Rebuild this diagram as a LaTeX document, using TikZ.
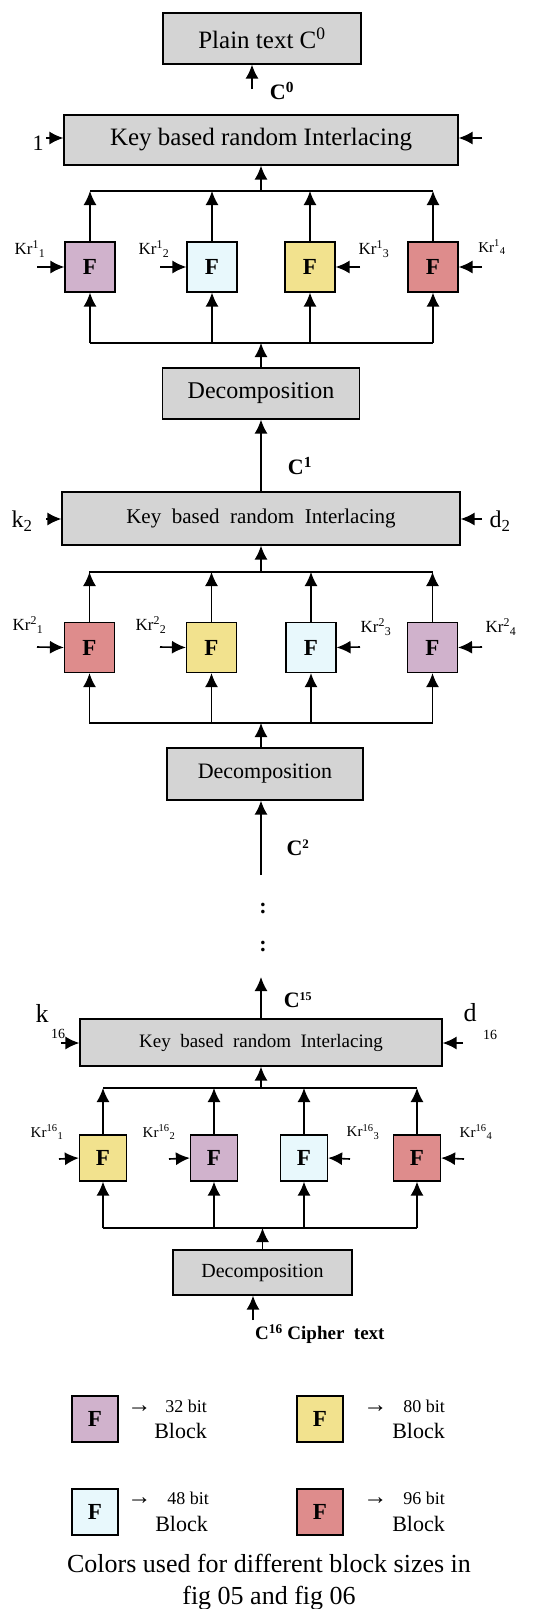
\documentclass[tikz,border=0pt]{standalone}
\usepackage{fontspec}
\setmainfont{Liberation Serif}
\usetikzlibrary{arrows.meta}
\definecolor{bx_gray}{RGB}{212, 212, 212}
\definecolor{f_purple}{RGB}{208, 178, 204}
\definecolor{f_blue}{RGB}{232, 248, 252}
\definecolor{f_yellow}{RGB}{242, 226, 142}
\definecolor{f_red}{RGB}{222, 140, 140}
\tikzstyle{gb}=[rectangle,fill=bx_gray,draw=black,line width=1.2pt,inner sep=0pt]
\tikzstyle{fb}=[rectangle,draw=black,line width=1.2pt,inner sep=0pt,
  minimum width=50pt,minimum height=50pt,font=\fontsize{23}{23}\selectfont\bfseries]
\tikzstyle{ar}=[line width=1.6pt,-{Latex[length=14pt,width=13pt]}]
\tikzstyle{bus}=[line width=1.6pt]
\tikzstyle{kl}=[inner sep=0pt,font=\fontsize{17}{17}\selectfont]
\tikzstyle{cl}=[inner sep=0pt,font=\fontsize{22}{22}\selectfont\bfseries]
\tikzstyle{none}=[inner sep=0pt]

\begin{document}
\begin{tikzpicture}[x=1pt, y=-1pt]
            \useasboundingbox (0, 0) rectangle (540, 1609);
            % round 1
            \node [style=gb, minimum width=198pt, minimum height=51pt, font=\fontsize{25}{25}\selectfont] (0) at (262, 38.5) {Plain text C\textsuperscript{0}};
            \node [style=gb, minimum width=394pt, minimum height=50pt, font=\fontsize{25}{25}\selectfont] (1) at (261, 140) {Key based random Interlacing};
            \node [style=none] (2) at (252, 89) {};
            \node [style=cl] (3) at (282, 91) {C\textsuperscript{0}};
            \node [style=none, font=\fontsize{22}{22}\selectfont] (4) at (38, 143) {1};
            \node [style=none] (5) at (46, 138) {};
            \node [style=none] (6) at (482, 138) {};
            \draw [style=ar] (2.center) to (2.center |- 0.south);
            \draw [style=ar] (5.center) to (5.center -| 1.west);
            \draw [style=ar] (6.center) to (6.center -| 1.east);
            \node [style=fb, fill=f_purple] (10) at (90, 267) {F};
            \node [style=fb, fill=f_blue] (11) at (212, 267) {F};
            \node [style=fb, fill=f_yellow] (12) at (310, 267) {F};
            \node [style=fb, fill=f_red] (13) at (433, 267) {F};
            \node [style=none] (14) at (90, 191) {};
            \node [style=none] (15) at (433, 191) {};
            \node [style=none] (16) at (90, 343) {};
            \node [style=none] (17) at (433, 343) {};
            \node [style=gb, minimum width=197pt, minimum height=51pt, font=\fontsize{24}{24}\selectfont] (18) at (261, 393.5) {Decomposition};
            \draw [style=bus] (14.center) to (15.center);
            \draw [style=bus] (16.center) to (17.center);
            \draw [style=ar] (1.south |- 14.center) to (1.south);
            \draw [style=ar] (10.north) to (10.north |- 14.center);
            \draw [style=ar] (11.north) to (11.north |- 14.center);
            \draw [style=ar] (12.north) to (12.north |- 14.center);
            \draw [style=ar] (13.north) to (13.north |- 14.center);
            \draw [style=ar] (10.south |- 16.center) to (10.south);
            \draw [style=ar] (11.south |- 16.center) to (11.south);
            \draw [style=ar] (12.south |- 16.center) to (12.south);
            \draw [style=ar] (13.south |- 16.center) to (13.south);
            \draw [style=ar] (18.north) to (18.north |- 16.center);
            \node [style=none] (19) at (37, 267) {};
            \node [style=none] (20) at (160, 267) {};
            \node [style=none] (21) at (360, 267) {};
            \node [style=none] (22) at (482, 267) {};
            \draw [style=ar] (19.center) to (10.west);
            \draw [style=ar] (20.center) to (11.west);
            \draw [style=ar] (21.center) to (12.east);
            \draw [style=ar] (22.center) to (13.east);
            \node [style=kl] (23) at (30, 249) {Kr\textsuperscript{1}\textsubscript{1}};
            \node [style=kl] (24) at (154, 249) {Kr\textsuperscript{1}\textsubscript{2}};
            \node [style=kl] (25) at (374, 249) {Kr\textsuperscript{1}\textsubscript{3}};
            \node [style=kl, font=\fontsize{15}{15}\selectfont] (26) at (492, 247) {Kr\textsuperscript{1}\textsubscript{4}};
            % round 2
            \node [style=gb, minimum width=398pt, minimum height=53pt, font=\fontsize{21}{21}\selectfont] (30) at (261, 518.5) {Key~~based~~random~~Interlacing};
            \node [style=cl] (31) at (300, 466) {C\textsuperscript{1}};
            \draw [style=ar] (30.north) to (18.south);
            \node [style=none, font=\fontsize{24}{24}\selectfont] (32) at (22, 521) {k\textsubscript{2}};
            \node [style=none] (33) at (46, 519) {};
            \node [style=none, font=\fontsize{24}{24}\selectfont] (34) at (500, 521) {d\textsubscript{2}};
            \node [style=none] (35) at (482, 519) {};
            \draw [style=ar] (33.center) to (33.center -| 30.west);
            \draw [style=ar] (35.center) to (35.center -| 30.east);
            \node [style=none] (36) at (89, 572) {};
            \node [style=none] (37) at (433, 572) {};
            \node [style=fb, fill=f_red] (38) at (89.5, 647.5) {F};
            \node [style=fb, fill=f_yellow] (39) at (211.5, 647.5) {F};
            \node [style=fb, fill=f_blue] (40) at (311, 647.5) {F};
            \node [style=fb, fill=f_purple] (41) at (432.5, 647.5) {F};
            \node [style=none] (42) at (89, 723) {};
            \node [style=none] (43) at (433, 723) {};
            \node [style=gb, minimum width=196pt, minimum height=52pt, font=\fontsize{22}{22}\selectfont] (44) at (265, 774) {Decomposition};
            \node [style=none] (45) at (261, 875) {};
            \node [style=cl] (46) at (298, 848) {C\textsuperscript{\fontsize{13}{13}\selectfont 2}};
            \draw [style=bus] (36.center) to (37.center);
            \draw [style=bus] (42.center) to (43.center);
            \draw [style=ar] (30.south |- 36.center) to (30.south);
            \draw [style=ar] (38.north) to (38.north |- 36.center);
            \draw [style=ar] (39.north) to (39.north |- 36.center);
            \draw [style=ar] (40.north) to (40.north |- 36.center);
            \draw [style=ar] (41.north) to (41.north |- 36.center);
            \draw [style=ar] (38.south |- 42.center) to (38.south);
            \draw [style=ar] (39.south |- 42.center) to (39.south);
            \draw [style=ar] (40.south |- 42.center) to (40.south);
            \draw [style=ar] (41.south |- 42.center) to (41.south);
            \draw [style=ar] (45.center |- 44.north) to (45.center |- 42.center);
            \draw [style=ar] (45.center) to (45.center |- 44.south);
            \node [style=none] (47) at (37, 647) {};
            \node [style=none] (48) at (160, 647) {};
            \node [style=none] (49) at (360, 647) {};
            \node [style=none] (50) at (482, 647) {};
            \draw [style=ar] (47.center) to (38.west);
            \draw [style=ar] (48.center) to (39.west);
            \draw [style=ar] (49.center) to (40.east);
            \draw [style=ar] (50.center) to (41.east);
            \node [style=kl] (51) at (28, 625) {Kr\textsuperscript{2}\textsubscript{1}};
            \node [style=kl] (52) at (151, 625) {Kr\textsuperscript{2}\textsubscript{2}};
            \node [style=kl] (53) at (376, 627) {Kr\textsuperscript{2}\textsubscript{3}};
            \node [style=kl] (54) at (501, 627) {Kr\textsuperscript{2}\textsubscript{4}};
            \node [style=cl] (55) at (263, 908) {:};
            \node [style=cl] (56) at (263, 946) {:};
            % round 16
            \node [style=gb, minimum width=362pt, minimum height=47pt, font=\fontsize{19}{19}\selectfont] (60) at (261, 1042.5) {Key~~based~~random~~Interlacing};
            \node [style=none] (61) at (261, 977) {};
            \node [style=cl] (62) at (298, 1000) {C\textsuperscript{\fontsize{12}{12}\selectfont 15}};
            \draw [style=ar] (60.north) to (61.center);
            \node [style=none, font=\fontsize{26}{26}\selectfont] (63) at (42, 1013) {k};
            \node [style=none, font=\fontsize{14}{14}\selectfont] (64) at (58, 1034) {16};
            \node [style=none] (65) at (61, 1043) {};
            \node [style=none, font=\fontsize{26}{26}\selectfont] (66) at (470, 1013) {d};
            \node [style=none, font=\fontsize{14}{14}\selectfont] (67) at (490, 1035) {16};
            \node [style=none] (68) at (463, 1043) {};
            \draw [style=ar] (65.center) to (65.center -| 60.west);
            \draw [style=ar] (68.center) to (68.center -| 60.east);
            \node [style=none] (69) at (103, 1088) {};
            \node [style=none] (70) at (417, 1088) {};
            \node [style=fb, fill=f_yellow, minimum width=47pt, minimum height=46pt] (71) at (103, 1158) {F};
            \node [style=fb, fill=f_purple, minimum width=47pt, minimum height=46pt] (72) at (214, 1158) {F};
            \node [style=fb, fill=f_blue, minimum width=47pt, minimum height=46pt] (73) at (304, 1158) {F};
            \node [style=fb, fill=f_red, minimum width=47pt, minimum height=46pt] (74) at (417, 1158) {F};
            \node [style=none] (75) at (59, 1159) {};
            \node [style=none] (76) at (169, 1159) {};
            \node [style=none] (77) at (350, 1159) {};
            \node [style=none] (78) at (464, 1159) {};
            \draw [style=ar] (75.center) to (71.west);
            \draw [style=ar] (76.center) to (72.west);
            \draw [style=ar] (77.center) to (73.east);
            \draw [style=ar] (78.center) to (74.east);
            \node [style=kl, font=\fontsize{15}{15}\selectfont] (79) at (47, 1132) {Kr\textsuperscript{16}\textsubscript{1}};
            \node [style=kl, font=\fontsize{15}{15}\selectfont] (80) at (159, 1132) {Kr\textsuperscript{16}\textsubscript{2}};
            \node [style=kl, font=\fontsize{15}{15}\selectfont] (81) at (363, 1132) {Kr\textsuperscript{16}\textsubscript{3}};
            \node [style=kl, font=\fontsize{15}{15}\selectfont] (82) at (476, 1132) {Kr\textsuperscript{16}\textsubscript{4}};
            \node [style=none] (83) at (103, 1228) {};
            \node [style=none] (84) at (417, 1228) {};
            \node [style=gb, minimum width=179pt, minimum height=45pt, font=\fontsize{20}{20}\selectfont] (85) at (262.5, 1272.5) {Decomposition};
            \node [style=none] (86) at (253, 1320) {};
            \node [style=cl, anchor=west, font=\fontsize{19}{19}\selectfont\bfseries] (87) at (255, 1334) {C\textsuperscript{16} Cipher~~text};
            \draw [style=bus] (69.center) to (70.center);
            \draw [style=bus] (83.center) to (84.center);
            \draw [style=ar] (60.south |- 69.center) to (60.south);
            \draw [style=ar] (71.north) to (71.north |- 69.center);
            \draw [style=ar] (72.north) to (72.north |- 69.center);
            \draw [style=ar] (73.north) to (73.north |- 69.center);
            \draw [style=ar] (74.north) to (74.north |- 69.center);
            \draw [style=ar] (71.south |- 83.center) to (71.south);
            \draw [style=ar] (72.south |- 83.center) to (72.south);
            \draw [style=ar] (73.south |- 83.center) to (73.south);
            \draw [style=ar] (74.south |- 83.center) to (74.south);
            \draw [style=ar] (85.north) to (85.north |- 83.center);
            \draw [style=ar] (86.center) to (86.center |- 85.south);
            % legend
            \node [style=fb, fill=f_purple, minimum width=46pt, minimum height=46pt] (90) at (95, 1419) {F};
            \node [style=none, anchor=east, font=\fontsize{18}{18}\selectfont] (91) at (207, 1406) {{\fontsize{24}{24}\selectfont →}\hspace{14pt}32 bit};
            \node [style=none, anchor=east, font=\fontsize{22}{22}\selectfont] (92) at (207, 1431) {Block};
            \node [style=fb, fill=f_yellow, minimum width=46pt, minimum height=46pt] (93) at (320, 1419) {F};
            \node [style=none, anchor=east, font=\fontsize{18}{18}\selectfont] (94) at (445, 1406) {{\fontsize{24}{24}\selectfont →}\hspace{16pt}80 bit};
            \node [style=none, anchor=east, font=\fontsize{22}{22}\selectfont] (95) at (445, 1431) {Block};
            \node [style=fb, fill=f_blue, minimum width=46pt, minimum height=46pt] (96) at (95, 1512) {F};
            \node [style=none, anchor=east, font=\fontsize{18}{18}\selectfont] (97) at (209, 1498) {{\fontsize{24}{24}\selectfont →}\hspace{16pt}48 bit};
            \node [style=none, anchor=east, font=\fontsize{22}{22}\selectfont] (98) at (208, 1524) {Block};
            \node [style=fb, fill=f_red, minimum width=46pt, minimum height=46pt] (99) at (320, 1512) {F};
            \node [style=none, anchor=east, font=\fontsize{18}{18}\selectfont] (100) at (445, 1498) {{\fontsize{24}{24}\selectfont →}\hspace{16pt}96 bit};
            \node [style=none, anchor=east, font=\fontsize{22}{22}\selectfont] (101) at (445, 1524) {Block};
            \node [style=none, font=\fontsize{26}{26}\selectfont] (102) at (269, 1563) {Colors used for different block sizes in};
            \node [style=none, font=\fontsize{26}{26}\selectfont] (103) at (269, 1598) {fig 05 and fig 06};
    \end{tikzpicture}
\end{document}
